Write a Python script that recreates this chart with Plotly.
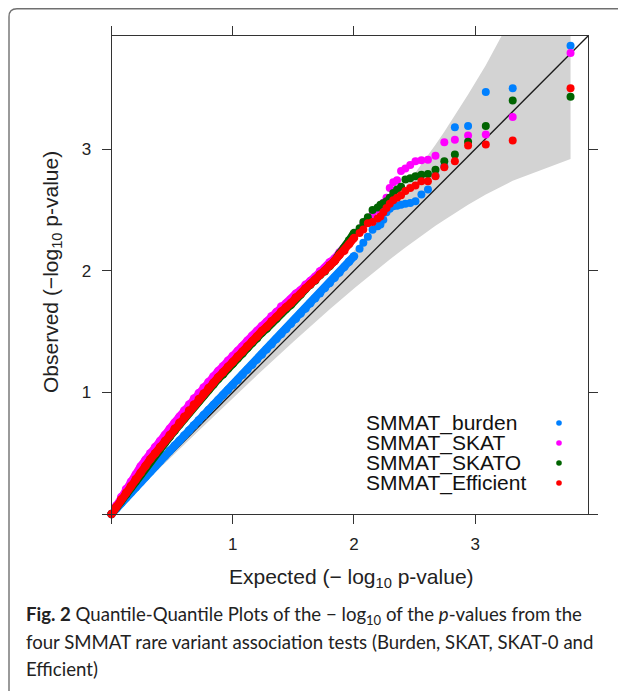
import plotly.graph_objects as go

# The page adds an 8px body margin, so the figure is drawn 8px smaller and
# all page positions below are shifted by that offset.
OFF = 8
W, H = 626 - OFF, 691 - OFF


def px(x):
    return (x - OFF) / W


def py(y):
    return 1 - (y - OFF) / H


# ---------------- data ----------------
# dense part of the QQ cloud
exp_dense = [0.00, 0.04, 0.08, 0.12, 0.16, 0.20, 0.24, 0.28, 0.32, 0.36, 0.40, 0.44, 0.48,
             0.52, 0.56, 0.60, 0.64, 0.68, 0.72, 0.76, 0.80, 0.84, 0.88, 0.92, 0.96, 1.00,
             1.04, 1.08, 1.12, 1.16, 1.20, 1.24, 1.28, 1.32, 1.36, 1.40, 1.44, 1.48, 1.52,
             1.56, 1.60, 1.64, 1.68, 1.72, 1.76, 1.80, 1.84, 1.88, 1.92, 1.96, 2.00]
# sparse upper tail
exp_tail = [2.046, 2.077, 2.114, 2.153, 2.195, 2.218, 2.242, 2.268, 2.295, 2.324, 2.355,
            2.388, 2.424, 2.464, 2.507, 2.556, 2.610, 2.672, 2.745, 2.832, 2.941, 3.087,
            3.309, 3.786]

burden_dense = [0.000, 0.045, 0.090, 0.133, 0.176, 0.220, 0.263, 0.306, 0.349, 0.392, 0.435,
                0.477, 0.519, 0.561, 0.603, 0.645, 0.687, 0.729, 0.771, 0.813, 0.855, 0.896,
                0.937, 0.978, 1.019, 1.060, 1.102, 1.144, 1.186, 1.228, 1.270, 1.312, 1.354,
                1.396, 1.438, 1.480, 1.522, 1.564, 1.606, 1.648, 1.690, 1.732, 1.774, 1.816,
                1.858, 1.900, 1.943, 1.986, 2.030, 2.075, 2.120]
burden_tail = [2.18, 2.23, 2.28, 2.337, 2.365, 2.38, 2.42, 2.48, 2.51, 2.53, 2.535, 2.543,
               2.551, 2.556, 2.572, 2.626, 2.667, 2.78, 2.86, 3.18, 3.19, 3.47, 3.50, 3.85]

skat_dense = [0.000, 0.070, 0.140, 0.205, 0.265, 0.325, 0.390, 0.445, 0.500, 0.550, 0.600,
              0.650, 0.700, 0.750, 0.800, 0.850, 0.900, 0.950, 0.995, 1.040, 1.085, 1.130,
              1.175, 1.215, 1.260, 1.300, 1.340, 1.380, 1.425, 1.465, 1.505, 1.545, 1.580,
              1.625, 1.660, 1.705, 1.730, 1.765, 1.810, 1.840, 1.885, 1.915, 1.950, 1.995,
              2.025, 2.070, 2.100, 2.150, 2.185, 2.240, 2.290]
skat_tail = [2.33, 2.38, 2.42, 2.46, 2.50, 2.53, 2.56, 2.60, 2.68, 2.727, 2.745, 2.82, 2.84,
             2.87, 2.90, 2.908, 2.912, 2.945, 3.056, 3.078, 3.111, 3.12, 3.265, 3.79]

skato_dense = [0.000, 0.055, 0.110, 0.160, 0.215, 0.270, 0.325, 0.380, 0.435, 0.485, 0.535,
               0.585, 0.635, 0.685, 0.735, 0.785, 0.835, 0.885, 0.930, 0.975, 1.020, 1.065,
               1.110, 1.150, 1.195, 1.235, 1.280, 1.320, 1.365, 1.405, 1.445, 1.490, 1.525,
               1.570, 1.605, 1.650, 1.685, 1.720, 1.775, 1.805, 1.850, 1.885, 1.920, 1.965,
               1.995, 2.040, 2.080, 2.140, 2.185, 2.250, 2.310]
skato_tail = [2.35, 2.40, 2.44, 2.50, 2.52, 2.543, 2.555, 2.571, 2.60, 2.64, 2.667, 2.69,
              2.75, 2.76, 2.776, 2.79, 2.795, 2.83, 2.90, 2.955, 3.06, 3.19, 3.40, 3.43]

efficient_dense = [0.000, 0.060, 0.120, 0.175, 0.230, 0.285, 0.340, 0.395, 0.450, 0.500, 0.550,
                   0.600, 0.650, 0.700, 0.750, 0.800, 0.850, 0.900, 0.945, 0.990, 1.035, 1.080,
                   1.125, 1.165, 1.210, 1.250, 1.295, 1.335, 1.380, 1.420, 1.460, 1.505, 1.540,
                   1.585, 1.620, 1.665, 1.700, 1.735, 1.780, 1.810, 1.855, 1.890, 1.925, 1.970,
                   2.000, 2.045, 2.080, 2.130, 2.165, 2.220, 2.270]
efficient_tail = [2.31, 2.34, 2.39, 2.40, 2.43, 2.447, 2.48, 2.516, 2.55, 2.58, 2.60, 2.62,
                  2.655, 2.68, 2.70, 2.735, 2.735, 2.776, 2.85, 2.90, 3.029, 3.037, 3.07, 3.50]

# confidence band (grey area)
band_x = [0.0, 0.05, 0.15, 0.3, 0.5, 0.7, 1.0, 1.2, 1.5, 1.8, 2.015, 2.195, 2.295, 2.424,
          2.556, 2.672, 2.745, 2.832, 2.941, 3.087, 3.309, 3.786]
band_lo = [0.0, 0.045, 0.140, 0.279, 0.474, 0.666, 0.953, 1.140, 1.416, 1.683, 1.867, 2.014,
           2.093, 2.191, 2.287, 2.369, 2.418, 2.475, 2.542, 2.626, 2.739, 2.918]
band_hi = [0.0, 0.055, 0.160, 0.322, 0.529, 0.734, 1.049, 1.262, 1.590, 1.926, 2.180, 2.399,
           2.526, 2.693, 2.872, 3.036, 3.143, 3.275, 3.448, 3.690, 4.100, 5.080]

ref_line = [0.0, 4.5]

series_names = ["SMMAT_burden", "SMMAT_SKAT", "SMMAT_SKATO", "SMMAT_Efficient"]
series_dense = [burden_dense, skat_dense, skato_dense, efficient_dense]
series_tail = [burden_tail, skat_tail, skato_tail, efficient_tail]
colors = ["#0080ff", "#ff00ff", "#006400", "#ff0000"]

tick_vals = [1, 2, 3]
tick_text = ["1", "2", "3"]
minor_tick_vals = [0]

# ---------------- figure ----------------
fig = go.Figure()

fig.add_trace(go.Scatter(
    x=band_x + band_x[::-1], y=band_hi + band_lo[::-1],
    fill="toself", fillcolor="#d3d3d3", line=dict(width=0),
    mode="lines", hoverinfo="skip", showlegend=False))

fig.add_trace(go.Scatter(
    x=ref_line, y=ref_line, mode="lines",
    line=dict(color="#1a1a1a", width=1.3), showlegend=False, hoverinfo="skip"))

for name, dv, tv, col in zip(series_names, series_dense, series_tail, colors):
    fig.add_trace(go.Scatter(
        x=exp_dense, y=dv, mode="lines+markers", name=name,
        line=dict(color=col, width=8),
        marker=dict(color=col, size=8.5, line=dict(width=0)),
        showlegend=False, cliponaxis=False))
    fig.add_trace(go.Scatter(
        x=exp_tail, y=tv, mode="markers", name=name,
        marker=dict(color=col, size=8, line=dict(width=0)),
        showlegend=False, cliponaxis=False))

# plot area in page pixels
L, R, T, B = 111.5, 588.0, 36.0, 514.0
axis_common = dict(
    showline=True, linecolor="#333333", linewidth=1, mirror="allticks",
    ticks="outside", ticklen=9, tickwidth=1, tickcolor="#333333",
    showgrid=False, zeroline=False, tickmode="array", tickvals=tick_vals, ticktext=tick_text,
    minor=dict(tickmode="array", tickvals=minor_tick_vals, ticks="outside", ticklen=9,
               tickwidth=1, tickcolor="#333333", showgrid=False),
    tickfont=dict(family="Liberation Sans, Arial, sans-serif", size=17, color="#222222"),
    range=[0, 3.93], fixedrange=True)

fig.update_layout(
    width=W, height=H, margin=dict(l=0, r=0, t=0, b=0),
    paper_bgcolor="white", plot_bgcolor="white", showlegend=False,
    xaxis=dict(domain=[px(L), px(R)], ticklabelstandoff=6, **axis_common),
    yaxis=dict(domain=[py(B), py(T)], ticklabelstandoff=7, **axis_common),
)

ann = []
font_axis = dict(family="Liberation Sans, Arial, sans-serif", size=21, color="#222222")
ann.append(dict(xref="paper", yref="paper", x=px(351), y=py(578),
                text="Expected (\u2212 log<sub>10</sub> p-value)", showarrow=False,
                font=font_axis, xanchor="center", yanchor="middle"))
ann.append(dict(xref="paper", yref="paper", x=px(52), y=py(272),
                text="Observed (\u2212log<sub>10</sub> p-value)", showarrow=False,
                font=font_axis, textangle=-90, xanchor="center", yanchor="middle"))

legend_rows = [423, 443, 463, 483]
shapes = []
for name, col, ry in zip(series_names, colors, legend_rows):
    ann.append(dict(xref="paper", yref="paper", x=px(364), y=py(ry), text=name,
                    showarrow=False, xanchor="left", yanchor="middle",
                    font=dict(family="Liberation Sans, Arial, sans-serif", size=21,
                              color="#111111")))
    r = 2.8
    shapes.append(dict(type="circle", xref="paper", yref="paper",
                       x0=px(559 - r), x1=px(559 + r),
                       y0=py(ry + r), y1=py(ry - r),
                       fillcolor=col, line=dict(width=0)))

cap_font = dict(family="Lato, Noto Sans, sans-serif", size=18.6, color="#222222")
cap_lines = [
    "<b>Fig. 2</b> Quantile-Quantile Plots of the \u2212 log<sub>10</sub> of the <i>p</i>-values from the",
    "four SMMAT rare variant association tests (Burden, SKAT, SKAT-0 and",
    "Efficient)",
]
for txt, cy in zip(cap_lines, [615, 642, 669]):
    ann.append(dict(xref="paper", yref="paper", x=px(24), y=py(cy), text=txt,
                    showarrow=False, xanchor="left", yanchor="middle", font=cap_font))

# outer rounded frame (open at right and bottom, as cropped)
fx, fy = px(9), py(8.8)
rx, ry_ = 8 / W, 8 / H
shapes.append(dict(type="path", xref="paper", yref="paper",
                   path=f"M {fx},-0.2 L {fx},{fy - ry_} Q {fx},{fy} {fx + rx},{fy} L 1.2,{fy}",
                   line=dict(color="#707070", width=1.4)))

fig.update_layout(annotations=ann, shapes=shapes)

fig.write_html("out.html")
